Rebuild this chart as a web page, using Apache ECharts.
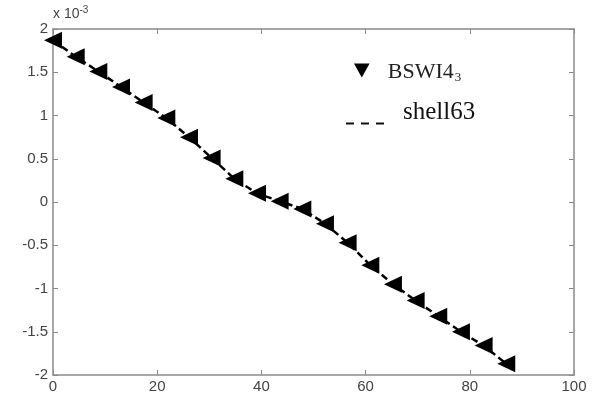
<!DOCTYPE html>
<html>
<head>
<meta charset="utf-8">
<script src="https://cdn.jsdelivr.net/npm/echarts@6/dist/echarts.min.js"></script>
<style>
html, body { margin: 0; padding: 0; background: #fff; }
#chart { width: 595px; height: 398px; }
</style>
</head>
<body>
<div id="chart"></div>
<script>
// node positions along the span
const xValues = [0, 4.35, 8.7, 13.05, 17.4, 21.75, 26.1, 30.45, 34.8, 39.15, 43.5,
    47.85, 52.2, 56.55, 60.9, 65.25, 69.6, 73.95, 78.3, 82.65, 87];
// BSWI4_3 results (markers)
const bswiValues = [1.87e-3, 1.68e-3, 1.51e-3, 1.33e-3, 1.15e-3, 0.97e-3, 0.75e-3, 0.51e-3, 0.27e-3, 0.10e-3, 0.01e-3,
    -0.08e-3, -0.25e-3, -0.47e-3, -0.73e-3, -0.95e-3, -1.14e-3, -1.32e-3, -1.50e-3, -1.66e-3, -1.87e-3];
// shell63 results (dashed line)
const shellValues = [1.87e-3, 1.68e-3, 1.51e-3, 1.33e-3, 1.15e-3, 0.97e-3, 0.75e-3, 0.51e-3, 0.27e-3, 0.10e-3, 0.01e-3,
    -0.08e-3, -0.25e-3, -0.47e-3, -0.73e-3, -0.95e-3, -1.14e-3, -1.32e-3, -1.50e-3, -1.66e-3, -1.87e-3];

const axisColor = '#8a8a8a';
const labelColor = '#444';

const chart = echarts.init(document.getElementById('chart'));

const frameAxis = {
    axisLine: { show: true, onZero: false, lineStyle: { color: axisColor, width: 1.5 } },
    axisTick: { show: true, inside: true, length: 5, lineStyle: { color: axisColor } },
    splitLine: { show: false }
};

const option = {
    backgroundColor: '#fff',
    animation: false,
    grid: { left: 53, right: 21, top: 29, bottom: 23 },
    legend: [
        {
            left: 349, top: 56,
            itemWidth: 16, itemHeight: 14, itemGap: 0,
            data: [{ name: 'BSWI4_3', icon: 'path://M0,0L10,0L5,9Z', itemStyle: { color: '#000' } }],
            formatter: () => '{a|BSWI4}{b|3}',
            textStyle: {
                padding: [0, 0, 0, 13],
                rich: {
                    a: { fontFamily: 'Liberation Serif', fontSize: 22, color: '#222', padding: [3, 0, 0, 0] },
                    b: { fontFamily: 'Liberation Serif', fontSize: 13, color: '#222', padding: [14, 0, 0, 1] }
                }
            },
            selectedMode: false
        },
        {
            left: 340, top: 95,
            itemWidth: 40, itemHeight: 14,
            data: [{
                name: 'shell63',
                itemStyle: { opacity: 0 },
                lineStyle: { color: '#111', width: 2, type: [8, 7] }
            }],
            formatter: name => '{a|' + name + '}',
            textStyle: {
                padding: [0, 0, 0, 12],
                rich: {
                    a: { fontFamily: 'Liberation Serif', fontSize: 25, color: '#111', padding: [0, 0, 22, 0] }
                }
            },
            selectedMode: false
        }
    ],
    xAxis: [
        Object.assign({
            type: 'value', min: 0, max: 100, interval: 20, position: 'bottom',
            axisLabel: { color: labelColor, fontFamily: 'Liberation Sans', fontSize: 15, margin: 4 }
        }, frameAxis),
        Object.assign({
            type: 'value', min: 0, max: 100, interval: 20, position: 'top',
            axisLabel: { show: false }
        }, frameAxis)
    ],
    yAxis: [
        Object.assign({
            type: 'value', min: -0.002, max: 0.002, interval: 0.0005, position: 'left',
            name: '{a|x 10}{b|-3}',
            nameLocation: 'end', nameGap: 4,
            nameTextStyle: {
                align: 'left',
                rich: {
                    a: { fontFamily: 'Liberation Sans', fontSize: 14, color: labelColor },
                    b: { fontFamily: 'Liberation Sans', fontSize: 10, color: labelColor, padding: [0, 0, 9, 0] }
                }
            },
            axisLabel: {
                color: labelColor, fontFamily: 'Liberation Sans', fontSize: 15, margin: 5,
                formatter: v => String(Math.round(v * 1e4) / 10)
            }
        }, frameAxis),
        Object.assign({
            type: 'value', min: -0.002, max: 0.002, interval: 0.0005, position: 'right',
            axisLabel: { show: false }
        }, frameAxis)
    ],
    series: [
        {
            name: 'shell63',
            type: 'line',
            symbol: 'none',
            data: xValues.map((x, i) => [x, shellValues[i]]),
            lineStyle: { color: '#000', width: 2.5, type: [7, 4] },
            itemStyle: { color: '#000' },
            z: 2
        },
        {
            name: 'BSWI4_3',
            type: 'scatter',
            symbol: 'triangle',
            symbolRotate: 90,
            symbolSize: [17, 18],
            data: xValues.map((x, i) => [x, bswiValues[i]]),
            itemStyle: { color: '#000', opacity: 1 },
            z: 3
        }
    ]
};

chart.setOption(option);
</script>
</body>
</html>
